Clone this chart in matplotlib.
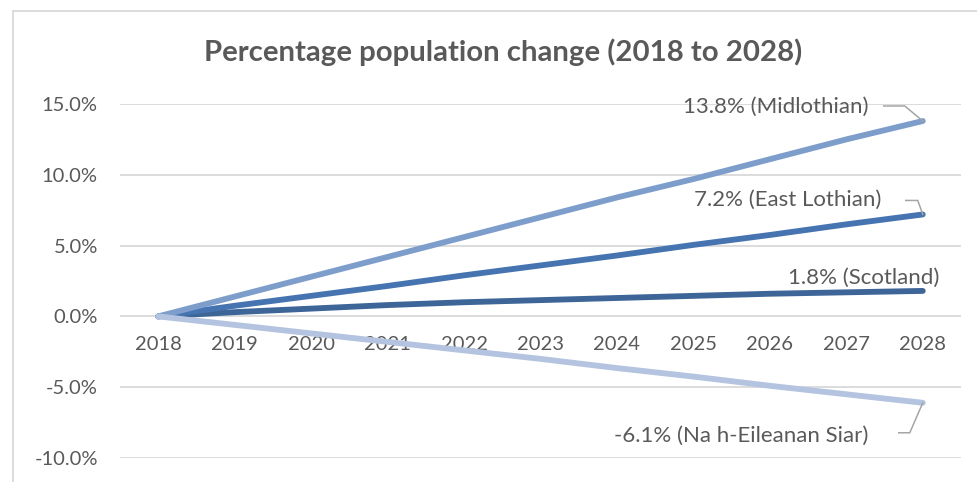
import matplotlib.pyplot as plt
from matplotlib.lines import Line2D
from matplotlib.ticker import FuncFormatter

years = [str(y) for y in range(2018, 2029)]
midlothian = [0.0, 1.4, 2.8, 4.2, 5.6, 7.0, 8.4, 9.7, 11.1, 12.5, 13.8]
east_lothian = [0.0, 0.75, 1.45, 2.15, 2.9, 3.6, 4.3, 5.05, 5.75, 6.5, 7.2]
scotland = [0.0, 0.3, 0.55, 0.8, 1.0, 1.15, 1.3, 1.45, 1.6, 1.7, 1.8]
siar = [0.0, -0.6, -1.2, -1.8, -2.4, -3.0, -3.65, -4.25, -4.9, -5.5, -6.1]

labels = ['13.8% (Midlothian)', '7.2% (East Lothian)', '1.8% (Scotland)',
          '-6.1% (Na h-Eileanan Siar)']

plt.rcParams['font.family'] = ['Lato', 'DejaVu Sans']
txt = '#595959'
grid = '#d9d9d9'

W, H = 978, 482
fig = plt.figure(figsize=(W / 100, H / 100), dpi=100)
ax = fig.add_axes([120 / W, 1 - 458 / H, (961 - 120) / W, (458 - 104) / H])

x = range(len(years))
series = [
    (scotland, '#3d6597'),
    (east_lothian, '#4674b0'),
    (midlothian, '#7d9dcb'),
    (siar, '#b4c4e0'),
]
for vals, c in series:
    ax.plot(x, vals, color=c, lw=4.2, solid_capstyle='round', zorder=3)

ax.set_xlim(-0.5, len(years) - 0.5)
ax.set_ylim(-10, 15)
ax.set_yticks([-10, -5, 0, 5, 10, 15])
ax.yaxis.set_major_formatter(FuncFormatter(lambda v, p: f'{v:.1f}%'))
ax.set_xticks(list(x))
ax.set_xticklabels(years)
ax.grid(axis='y', color=grid, lw=1.3)
ax.set_axisbelow(True)
for s in ax.spines.values():
    s.set_visible(False)
ax.spines['bottom'].set_position(('data', 0))
ax.tick_params(axis='both', length=0, labelsize=14.5, labelcolor=txt)
ax.tick_params(axis='y', pad=16)
ax.tick_params(axis='x', pad=14)

# data labels with leader lines (offsets in pixels)
ends = [midlothian[-1], east_lothian[-1], scotland[-1], siar[-1]]
offsets = [(-54, 14), (-41, 15), (17, 13), (-54, -33)]
leaders = [
    [(-39, 15), (-18, 15), (0, 0)],
    [(-17, 14), (-5, 14), (0, 0)],
    None,
    [(-24, -30), (-13, -30), (0, 0)],
]
last = len(years) - 1
for lab, v, off, ld in zip(labels, ends, offsets, leaders):
    ax.annotate(lab, xy=(last, v), xytext=off, textcoords='offset pixels',
                ha='right', va='center', fontsize=16, color=txt, zorder=5)
    if ld:
        px, py = ax.transData.transform((last, v))
        pts = [((px + dx) / W, (py + dy) / H) for dx, dy in ld]
        fig.add_artist(Line2D([p[0] for p in pts], [p[1] for p in pts],
                              color='#a5a5a5', lw=1.1, zorder=4))

fig.text(503 / W, 1 - 52 / H, 'Percentage population change (2018 to 2028)',
         ha='center', va='center', fontsize=21.2, fontweight='bold', color=txt)

# chart frame
fig.add_artist(Line2D([13.5 / W, 13.5 / W], [1 - 11 / H, 0], color=grid, lw=1.3))
fig.add_artist(Line2D([13.5 / W, 1], [1 - 11 / H, 1 - 11 / H], color=grid, lw=1.3))

fig.savefig('out.png', dpi=100)
